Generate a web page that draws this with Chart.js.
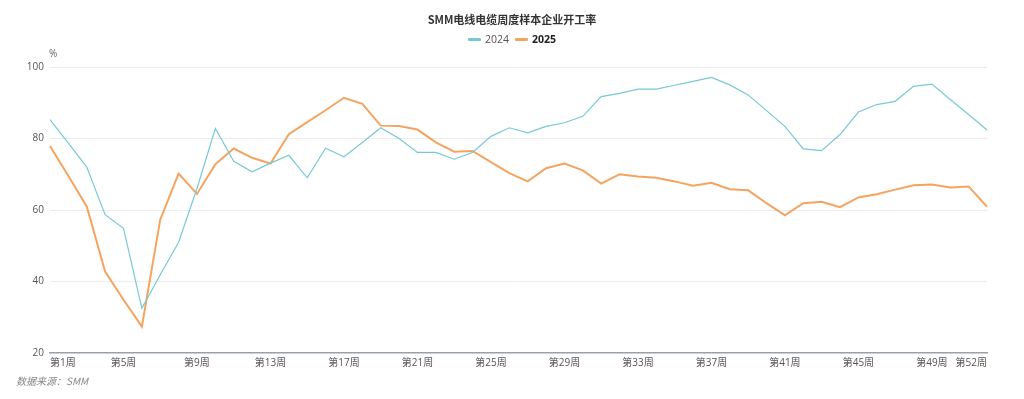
<!DOCTYPE html>
<html>
<head>
<meta charset="utf-8">
<script src="https://cdn.jsdelivr.net/npm/chart.js@4.4.1/dist/chart.umd.min.js"></script>
<style>
  html, body { margin: 0; padding: 0; background: #fff; }
  #wrap { position: relative; width: 1024px; height: 399px; font-family: "Open Sans", "Noto Sans CJK SC", sans-serif; }
  #c { position: absolute; left: 0; top: 0; }
  #title { position: absolute; left: 0; width: 1024px; top: 11px; text-align: center; font-size: 11px; font-weight: bold; color: #333; font-family: "Noto Sans CJK SC", sans-serif; line-height: 16px; }
  #legend { position: absolute; left: 0; width: 1024px; top: 31px; text-align: center; font-size: 10.5px; color: #555; line-height: 14px; }
  #legend span.item { display: inline-block; margin: 0 3px; vertical-align: middle; }
  #legend span.mk { display: inline-block; width: 13px; height: 3px; border-radius: 1px; vertical-align: middle; margin-right: 4px; position: relative; top: -1px; }
  #unit { position: absolute; left: 49px; top: 46px; font-size: 10px; color: #666; }
  #src { position: absolute; left: 16px; top: 373px; font-size: 10px; color: #888; font-style: italic; font-family: "Noto Sans CJK SC", sans-serif; }
</style>
</head>
<body>
<div id="wrap">
  <canvas id="c" width="1024" height="399"></canvas>
  <div id="title">SMM电线电缆周度样本企业开工率</div>
  <div id="legend"></div>
  <div id="unit">%</div>
  <div id="src">数据来源：SMM</div>
</div>
<script>
const weeks = [];
for (let i = 1; i <= 52; i++) weeks.push('第' + i + '周');

const seriesNames = ['2024', '2025'];

const values2024 = [85.3, 78.7, 72.0, 58.7, 54.9, 32.5, 41.9, 51.0, 66.0, 82.8,
  73.6, 70.7, 73.1, 75.3, 69.0, 77.3, 74.9, 78.9, 83.0, 80.0,
  76.1, 76.1, 74.2, 76.1, 80.6, 83.0, 81.6, 83.4, 84.4, 86.2,
  91.7, 92.6, 93.8, 93.8, 94.9, 96.0, 97.1, 95.0, 92.2, 87.8,
  83.4, 77.1, 76.6, 81.1, 87.4, 89.5, 90.4, 94.6, 95.2, 90.9,
  86.7, 82.4];

const values2025 = [77.9, 69.5, 61.0, 42.8, 34.9, 27.4, 57.3, 70.2, 64.5, 72.8,
  77.2, 74.6, 73.0, 81.2, 84.6, 87.9, 91.4, 89.7, 83.6, 83.5,
  82.5, 78.9, 76.3, 76.5, 73.4, 70.3, 68.0, 71.7, 73.0, 71.1,
  67.4, 70.0, 69.4, 69.0, 68.0, 66.8, 67.6, 65.8, 65.5, 61.9,
  58.5, 61.9, 62.3, 60.8, 63.5, 64.4, 65.7, 66.9, 67.1, 66.3,
  66.6, 60.9];

const yTicks = [20, 40, 60, 80, 100];

const colors = ['#78C8D8', '#F5A460'];
const widths = [1.2, 2];

// HTML legend
const lg = document.getElementById('legend');
seriesNames.forEach((n, i) => {
  const s = document.createElement('span');
  s.className = 'item';
  s.innerHTML = '<span class="mk" style="background:' + colors[i] + '"></span><span style="' +
    (i === 1 ? 'font-weight:bold;color:#222' : '') + '">' + n + '</span>';
  lg.appendChild(s);
});

new Chart(document.getElementById('c'), {
  type: 'line',
  data: {
    labels: weeks,
    datasets: [
      { label: seriesNames[0], data: values2024, borderColor: colors[0], backgroundColor: colors[0], borderWidth: widths[0], pointRadius: 0, tension: 0 },
      { label: seriesNames[1], data: values2025, borderColor: colors[1], backgroundColor: colors[1], borderWidth: widths[1], pointRadius: 0, tension: 0 }
    ]
  },
  options: {
    responsive: false,
    animation: false,
    devicePixelRatio: 1,
    layout: { padding: { left: 0, right: 37, top: 67, bottom: 26 } },
    plugins: { legend: { display: false }, title: { display: false }, tooltip: { enabled: false } },
    scales: {
      x: {
        offset: false,
        grid: { display: false, drawTicks: false },
        border: { display: true, color: '#9aa0a8', width: 1.5 },
        ticks: {
          autoSkip: false, maxRotation: 0, minRotation: 0, align: 'inner', padding: 4,
          color: '#555', font: { size: 10, family: '"Open Sans", "Noto Sans CJK SC", sans-serif' },
          callback: function (v, i) { return (i % 4 === 0 || i === weeks.length - 1) ? weeks[i] : ''; }
        },
        afterFit: function (s) { s.height = 20; }
      },
      y: {
        min: yTicks[0], max: yTicks[yTicks.length - 1],
        afterBuildTicks: function (s) { s.ticks = yTicks.map(v => ({ value: v })); },
        grid: { drawTicks: false, color: function (c) { return c.tick && c.tick.value === 20 ? 'rgba(0,0,0,0)' : '#ececec'; }, lineWidth: 1 },
        border: { display: false },
        ticks: { padding: 6, color: '#555', font: { size: 10, family: '"Open Sans", "Noto Sans CJK SC", sans-serif' } },
        afterFit: function (s) { s.width = 50; }
      }
    }
  }
});
</script>
</body>
</html>
